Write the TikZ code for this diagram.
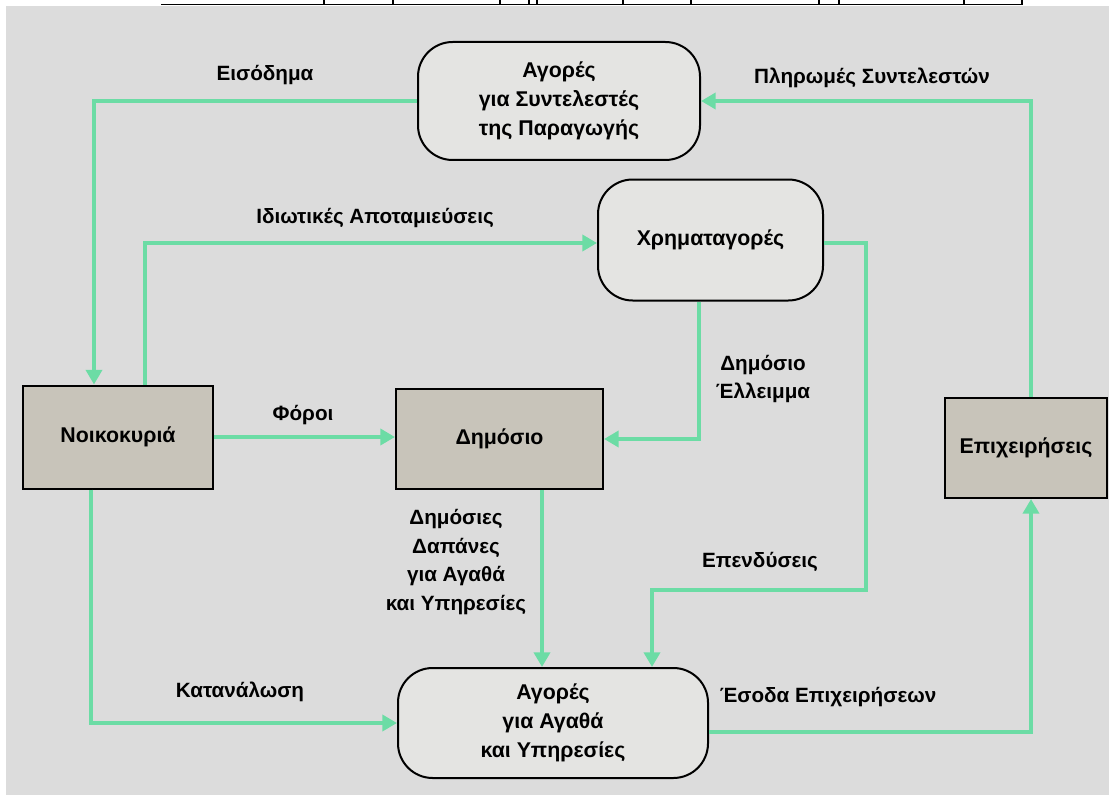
\documentclass[tikz,border=0pt]{standalone}
\usepackage{fontspec}
\setmainfont{Liberation Sans}
\usetikzlibrary{arrows.meta,calc}
\definecolor{bggray}{RGB}{220,220,220}
\definecolor{flowgreen}{RGB}{108,220,165}
\definecolor{boxfill}{RGB}{200,196,186}
\definecolor{roundfill}{RGB}{228,228,226}
\begin{document}
\begin{tikzpicture}[x=0.75pt,y=-0.75pt,
  every node/.style={font=\bfseries\fontsize{15.5pt}{21.5pt}\selectfont},
  boxfont/.style={font=\bfseries\fontsize{16pt}{21.5pt}\selectfont},
  rbox/.style={boxfont,draw=black,line width=1.5pt,rounded corners=26pt,fill=roundfill,align=center,inner sep=0pt},
  sbox/.style={boxfont,draw=black,line width=1.5pt,fill=boxfill,align=center,inner sep=0pt},
  flow/.style={draw=flowgreen,line width=3pt,-{Triangle[length=11pt,width=12pt]}},
  lbl/.style={align=center,inner sep=0pt}]
\useasboundingbox (0,0) rectangle (1109,795);
% background
\fill[white] (0,0) rectangle (1109,795);
\fill[bggray] (6,6) rectangle (1109,795);
% cut-off border at top
\draw[line width=1.3pt] (161,4.5) -- (1023,4.5);
\foreach \xx in {324,393,500,529,537,623,691,819,839,964,1022}
  \draw[line width=1.2pt] (\xx,0) -- (\xx,4.5);
% boxes
\node[rbox,minimum width={282*0.75pt},minimum height={118*0.75pt}] (top) at (559,101) {Αγορές\\για Συντελεστές\\της Παραγωγής};
\node[rbox,minimum width={225*0.75pt},minimum height={121*0.75pt}] (fin) at (710.5,240) {Χρηματαγορές};
\node[sbox,minimum width={190*0.75pt},minimum height={103*0.75pt}] (noik) at (118,437) {Νοικοκυριά};
\node[sbox,minimum width={207*0.75pt},minimum height={100*0.75pt}] (pub) at (499.5,439) {Δημόσιο};
\node[sbox,minimum width={162*0.75pt},minimum height={100*0.75pt}] (firm) at (1026,448) {Επιχειρήσεις};
\node[rbox,minimum width={310*0.75pt},minimum height={110*0.75pt}] (bot) at (553,723) {Αγορές\\για Αγαθά\\και Υπηρεσίες};
% helper coordinate
\coordinate (inv1) at (866,590);
% connectors
\draw[flow] (top.west) -| ($(noik.north west)+(72,0)$);
\draw[flow] ($(noik.north west)+(123,0)$) |- ($(fin.west)+(0,3)$);
\draw[flow] (noik.east) -- (noik.east -| pub.west);
\draw[flow] ($(fin.south west)+(102,0)$) |- (pub.east);
\draw[flow] ($(fin.east)+(0,3)$) -| (inv1) -| ($(bot.north west)+(255,0)$);
\draw[flow] ($(pub.south west)+(147,0)$) coordinate (d1) -- (d1 |- bot.north);
\draw[flow] ($(noik.south west)+(69,0)$) |- (bot.west);
\draw[flow] ($(bot.east)+(0,9)$) -| ($(firm.south west)+(87,0)$);
\draw[flow] ($(firm.north west)+(87,0)$) |- (top.east);
% labels
\node[lbl] (l1) at (265,75) {Εισόδημα};
\node[lbl] (l2) at (872,78) {Πληρωμές Συντελεστών};
\node[lbl] (l3) at (375,218) {Ιδιωτικές Αποταμιεύσεις};
\node[lbl] (l4) at (303,415) {Φόροι};
\node[lbl] (l5) at (763,379) {Δημόσιο\\Έλλειμμα};
\node[lbl] (l6) at (456,562) {Δημόσιες\\Δαπάνες\\για Αγαθά\\και Υπηρεσίες};
\node[lbl] (l7) at (760,562) {Επενδύσεις};
\node[lbl] (l8) at (240,692) {Κατανάλωση};
\node[lbl] (l9) at (828,697) {Έσοδα Επιχειρήσεων};
\end{tikzpicture}
\end{document}
